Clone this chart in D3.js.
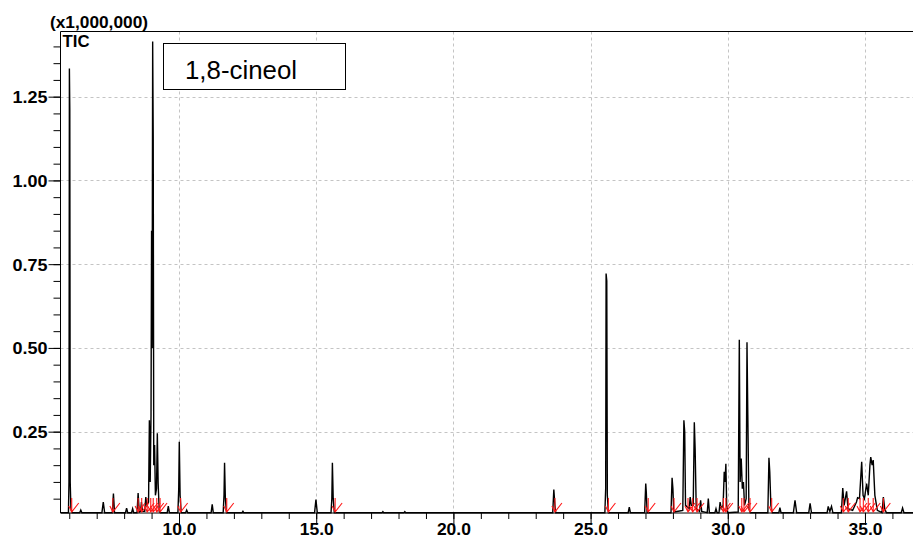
<!DOCTYPE html>
<html>
<head>
<meta charset="utf-8">
<script src="https://cdn.jsdelivr.net/npm/d3@7"></script>
<style>
  html, body { margin: 0; padding: 0; background: #fff; }
  svg { display: block; }
  .lbl { font-family: "Liberation Sans", Arial, sans-serif; font-weight: bold; font-size: 16.5px; fill: #000; }
</style>
</head>
<body>
<script>
// Total ion chromatogram (TIC), intensity in units of 1,000,000 counts, time in minutes
const trace = [
  [5.68,0.008],
  [5.97,0.008],[5.99,0.10],[6.005,1.334],[6.02,1.21],[6.035,0.10],[6.06,0.02],[6.10,0.008],
  [6.38,0.008],[6.42,0.016],[6.46,0.008],
  [7.19,0.008],[7.24,0.040],[7.29,0.008],
  [7.57,0.008],[7.61,0.065],[7.65,0.008],
  [8.05,0.008],[8.09,0.022],[8.13,0.008],
  [8.27,0.008],[8.31,0.020],[8.35,0.008],
  [8.47,0.008],[8.51,0.067],[8.55,0.010],
  [8.60,0.012],[8.63,0.040],[8.67,0.012],
  [8.75,0.012],[8.79,0.055],[8.83,0.030],
  [8.89,0.040],[8.92,0.284],[8.95,0.100],
  [8.98,0.300],[9.00,0.850],[9.02,0.500],[9.04,1.415],[9.06,1.130],[9.08,0.150],
  [9.11,0.210],[9.14,0.060],
  [9.18,0.080],[9.21,0.245],[9.24,0.095],[9.28,0.012],[9.32,0.008],
  [9.57,0.008],[9.61,0.028],[9.65,0.008],
  [9.96,0.008],[9.99,0.080],[10.01,0.220],[10.04,0.060],[10.08,0.008],
  [10.24,0.008],[10.28,0.016],[10.32,0.008],
  [11.17,0.008],[11.21,0.033],[11.25,0.008],
  [11.61,0.008],[11.64,0.060],[11.66,0.157],[11.69,0.050],[11.73,0.008],
  [12.30,0.008],[12.33,0.012],[12.36,0.008],
  [14.94,0.008],[14.99,0.047],[15.04,0.008],
  [15.54,0.008],[15.57,0.050],[15.59,0.157],[15.62,0.050],[15.66,0.008],
  [17.40,0.008],[17.43,0.011],[17.46,0.008],
  [18.20,0.008],[18.23,0.011],[18.26,0.008],
  [23.62,0.008],[23.66,0.077],[23.70,0.030],[23.73,0.008],
  [25.52,0.008],[25.55,0.080],[25.565,0.722],[25.59,0.700],[25.61,0.060],[25.65,0.008],
  [26.37,0.008],[26.41,0.025],[26.45,0.008],
  [26.97,0.008],[27.01,0.095],[27.03,0.070],[27.06,0.008],
  [27.93,0.008],[27.97,0.112],[28.00,0.080],[28.03,0.010],
  [28.36,0.015],[28.40,0.284],[28.43,0.250],[28.46,0.030],
  [28.59,0.020],[28.63,0.055],[28.67,0.030],
  [28.74,0.030],[28.78,0.278],[28.81,0.200],[28.85,0.020],
  [28.97,0.012],[29.01,0.045],[29.05,0.012],
  [29.25,0.008],[29.29,0.050],[29.33,0.008],
  [29.53,0.008],[29.57,0.020],[29.61,0.008],
  [29.68,0.008],[29.72,0.040],[29.76,0.020],
  [29.83,0.030],[29.87,0.130],[29.90,0.100],[29.93,0.154],[29.96,0.030],[30.00,0.008],
  [30.38,0.010],[30.42,0.524],[30.45,0.100],[30.49,0.170],[30.53,0.080],[30.57,0.100],[30.61,0.030],
  [30.67,0.050],[30.70,0.517],[30.73,0.300],[30.77,0.020],[30.82,0.008],
  [31.46,0.008],[31.50,0.172],[31.53,0.130],[31.57,0.030],[31.62,0.008],
  [31.86,0.008],[31.90,0.023],[31.94,0.008],
  [32.39,0.008],[32.45,0.045],[32.51,0.008],
  [32.95,0.008],[33.00,0.036],[33.05,0.008],
  [33.62,0.008],[33.66,0.027],[33.72,0.012],[33.78,0.027],[33.83,0.008],
  [34.14,0.008],[34.19,0.082],[34.24,0.030],[34.33,0.072],[34.38,0.020],
  [34.55,0.015],[34.69,0.040],[34.73,0.053],[34.80,0.050],[34.88,0.160],[34.93,0.060],
  [34.98,0.050],[35.06,0.095],[35.12,0.060],[35.18,0.150],[35.21,0.174],[35.26,0.150],
  [35.30,0.165],[35.36,0.060],[35.45,0.015],
  [35.62,0.008],[35.67,0.055],[35.72,0.020],[35.78,0.008],
  [36.32,0.008],[36.37,0.022],[36.42,0.008],
  [36.75,0.008]
];

// Integration marks (peak detection points), minutes
const peakMarks = [6.09, 7.59, 8.51, 8.64, 8.84, 8.97, 9.06, 9.19, 9.31, 10.06, 11.74,
  15.69, 23.70, 25.65, 27.10, 28.04, 28.55, 28.72, 28.88, 29.84, 29.93, 30.51, 30.59,
  30.81, 31.60, 34.21, 34.39, 34.82, 34.94, 35.12, 35.30, 35.67];

const yMajorTicks = [0.25, 0.50, 0.75, 1.00, 1.25];
const yMinorTicks = d3.range(1, 29).map(i => +(i * 0.05).toFixed(2));
const xMajorTicks = [10, 15, 20, 25, 30, 35];
const xMinorTicks = d3.range(6, 37);
const yUnitLabel = "(x1,000,000)";
const traceLabel = "TIC";
const compoundLabel = "1,8-cineol";

const W = 913, H = 547;
const plotL = 60.5, plotR = 913, plotT = 31.5, plotB = 513;

const x = d3.scaleLinear().domain([5.681, 36.75]).range([plotL, plotR]);
const y = d3.scaleLinear().domain([0.0072, 1.4445]).range([plotB, plotT]);

const svg = d3.select("body").append("svg").attr("width", W).attr("height", H);

svg.append("defs").append("clipPath").attr("id", "plot")
  .append("rect").attr("x", plotL).attr("y", plotT).attr("width", plotR - plotL).attr("height", plotB - plotT + 1);

// dashed grid
const grid = svg.append("g").attr("stroke", "#c4c4c4").attr("stroke-dasharray", "3,3").attr("stroke-width", 1);
grid.selectAll("line.v").data(xMajorTicks).join("line").attr("class", "v")
  .attr("x1", d => Math.round(x(d)) + 0.5).attr("x2", d => Math.round(x(d)) + 0.5)
  .attr("y1", plotT).attr("y2", plotB);
grid.selectAll("line.h").data(yMajorTicks).join("line").attr("class", "h")
  .attr("x1", plotL).attr("x2", plotR)
  .attr("y1", d => Math.round(y(d)) + 0.5).attr("y2", d => Math.round(y(d)) + 0.5);

// frame top line
svg.append("line").attr("x1", plotL).attr("x2", plotR).attr("y1", plotT).attr("y2", plotT)
  .attr("stroke", "#000").attr("stroke-width", 1);

// y axis
const yAxisMajor = d3.axisLeft(y).tickValues(yMajorTicks).tickSize(12).tickPadding(1).tickFormat(d3.format(".2f"));
const yAxisMinor = d3.axisLeft(y).tickValues(yMinorTicks).tickSize(7).tickFormat("");
const gyMinor = svg.append("g").attr("transform", `translate(${plotL},0)`).call(yAxisMinor);
gyMinor.select(".domain").remove();
const gy = svg.append("g").attr("transform", `translate(${plotL},0)`).call(yAxisMajor);
gy.select(".domain").attr("d", `M0,${plotT}V${plotB}`);
gy.selectAll(".tick text").attr("class", "lbl")
  .attr("dy", "0.36em").attr("textLength", 35).attr("lengthAdjust", "spacingAndGlyphs");

// x axis
const xAxisMajor = d3.axisBottom(x).tickValues(xMajorTicks).tickSize(12).tickPadding(10).tickFormat(d3.format(".1f"));
const xAxisMinor = d3.axisBottom(x).tickValues(xMinorTicks).tickSize(6).tickFormat("");
const gxMinor = svg.append("g").attr("transform", `translate(0,${plotB})`).call(xAxisMinor);
gxMinor.select(".domain").remove();
const gx = svg.append("g").attr("transform", `translate(0,${plotB})`).call(xAxisMajor);
gx.select(".domain").attr("d", `M${plotL},0H${plotR}`);
gx.selectAll(".tick text").attr("class", "lbl")
  .attr("dy", "0").attr("y", 21.5).attr("textLength", 34).attr("lengthAdjust", "spacingAndGlyphs");

svg.selectAll("g").attr("font-family", null).attr("font-size", null);
svg.selectAll(".domain, .tick line").attr("stroke", "#000");

// chromatogram trace
const line = d3.line().x(d => x(d[0])).y(d => y(d[1]));
svg.append("path").datum(trace)
  .attr("clip-path", "url(#plot)")
  .attr("d", line)
  .attr("fill", "none").attr("stroke", "#000").attr("stroke-width", 1.4).attr("stroke-linejoin", "miter");

// peak integration marks
const marks = svg.append("g").attr("stroke", "#ff1a1a").attr("stroke-width", 1.1).attr("fill", "none");
marks.selectAll("path").data(peakMarks).join("path")
  .attr("d", d => {
    const px = x(d), b = plotB - 1;
    return `M${px},${b - 14}V${b}M${px - 3},${b - 6}L${px},${b}L${px + 7},${b - 9}`;
  });

// labels
svg.append("text").attr("class", "lbl").attr("x", 50).attr("y", 27.5)
  .attr("textLength", 98).attr("lengthAdjust", "spacingAndGlyphs").text(yUnitLabel);
svg.append("text").attr("class", "lbl").attr("x", 62.5).attr("y", 47)
  .attr("textLength", 27).attr("lengthAdjust", "spacingAndGlyphs").text(traceLabel);

// compound annotation box
svg.append("rect").attr("x", 163.5).attr("y", 43.5).attr("width", 182).attr("height", 46)
  .attr("fill", "#fff").attr("stroke", "#000").attr("stroke-width", 1);
svg.append("text").attr("x", 185).attr("y", 79)
  .attr("font-family", "Liberation Sans, Arial, sans-serif").attr("font-size", 25)
  .attr("textLength", 112).attr("lengthAdjust", "spacingAndGlyphs")
  .text(compoundLabel);
</script>
</body>
</html>
